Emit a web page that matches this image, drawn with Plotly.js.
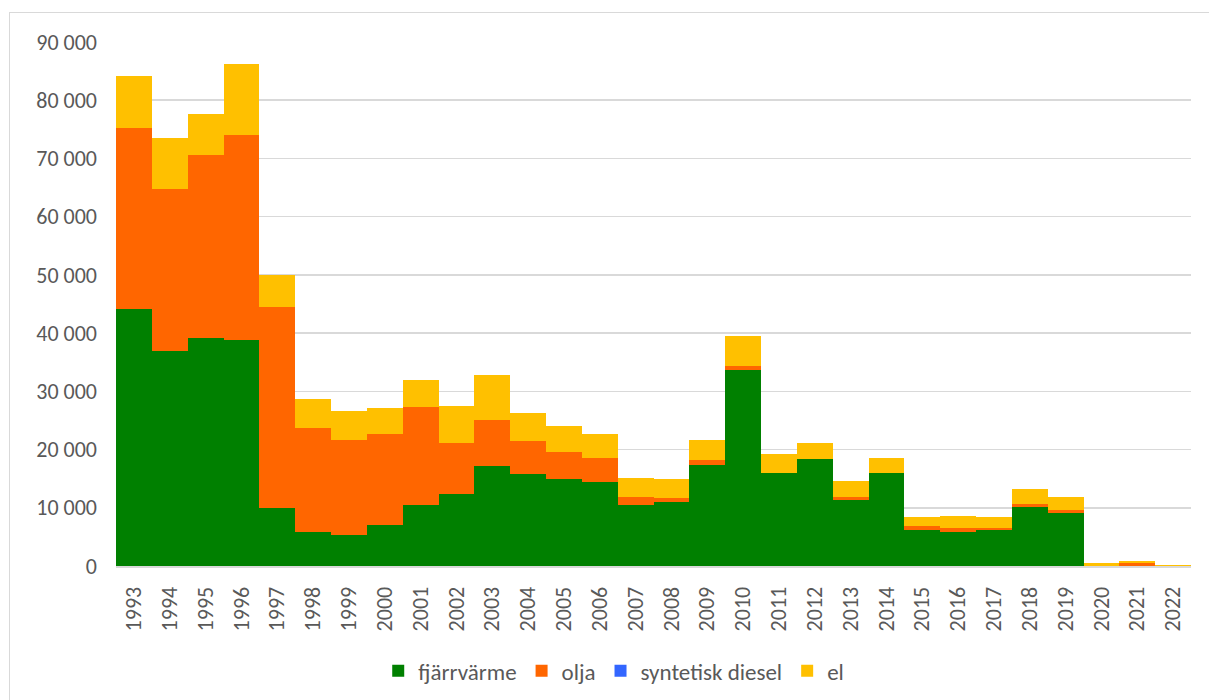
<!DOCTYPE html>
<html>
<head>
<meta charset="utf-8">
<script src="https://cdn.plot.ly/plotly-3.0.1.min.js"></script>
<style>
  html, body { margin:0; padding:0; background:#fff; overflow:hidden; }
  #wrap { position:relative; width:1209px; height:700px; }
  #chart { position:absolute; left:0; top:0; width:1209px; height:700px; }
  #frame { position:absolute; left:9px; top:12px; width:1300px; height:800px; border:1.5px solid #d9d9d9; pointer-events:none; }
</style>
</head>
<body>
<div id="wrap"><div id="frame"></div><div id="chart"></div></div>
<script>
const years = ["1993","1994","1995","1996","1997","1998","1999","2000","2001","2002","2003","2004","2005","2006","2007","2008","2009","2010","2011","2012","2013","2014","2015","2016","2017","2018","2019","2020","2021","2022"];
const fjarrvarme = [44100,37000,39100,38800,10000,5900,5300,7100,10500,12400,17100,15800,15000,14400,10400,11000,17400,33700,15900,18400,11400,15900,6100,5800,6200,10100,9100,0,0,0];
const olja = [31200,27800,31500,35200,34500,17800,16300,15500,16800,8700,7900,5600,4500,4100,1400,700,800,700,0,0,450,0,700,800,340,500,460,0,450,0];
const syntetiskDiesel = [0,0,0,0,0,0,0,0,0,0,0,0,0,0,0,0,0,0,0,0,0,0,0,0,0,0,0,0,0,0];
const el = [8900,8700,7100,12200,5500,5050,5000,4550,4700,6350,7800,4800,4500,4150,3400,3250,3500,5050,3350,2800,2750,2650,1700,1950,1900,2700,2250,600,400,200];

const names = ["fjärrvärme","olja","syntetisk diesel","el"];
const colors = ["#008000","#FF6600","#3366FF","#FFC000"];
const series = [fjarrvarme, olja, syntetiskDiesel, el];

const traces = series.map((vals, i) => ({
  type: "bar",
  x: years,
  y: vals,
  name: names[i],
  marker: { color: colors[i], line: { width: 0 } },
  hoverinfo: "x+y+name"
}));

const font = "Carlito, Calibri, 'Liberation Sans', Arial, sans-serif";

const layout = {
  width: 1209,
  height: 700,
  margin: { l: 116, r: 18, t: 42, b: 134, autoexpand: false },
  barmode: "stack",
  bargap: 0,
  separators: ", ",
  paper_bgcolor: "rgba(0,0,0,0)",
  plot_bgcolor: "#fff",
  font: { family: font, color: "#595959", size: 22 },
  showlegend: true,
  legend: {
    orientation: "h",
    x: 0.463, xanchor: "center",
    y: -0.2, yanchor: "middle",
    font: { family: font, size: 23, color: "#595959" },
    itemwidth: 30,
    traceorder: "normal"
  },
  xaxis: {
    type: "category",
    automargin: false,
    tickangle: -90,
    showgrid: false,
    showline: true,
    linecolor: "#d9d9d9",
    linewidth: 2,
    ticks: "",
    ticklabelstandoff: 10,
    tickfont: { family: font, size: 22, color: "#595959" }
  },
  yaxis: {
    automargin: false,
    range: [0, 90000],
    dtick: 10000,
    tickformat: ",d",
    showgrid: true,
    gridcolor: "#d9d9d9",
    gridwidth: 1.5,
    zeroline: false,
    showline: false,
    ticks: "",
    ticklabelstandoff: 18,
    tickfont: { family: font, size: 22, color: "#595959" }
  }
};

Plotly.newPlot("chart", traces, layout, { displayModeBar: false, staticPlot: true });
</script>
</body>
</html>
